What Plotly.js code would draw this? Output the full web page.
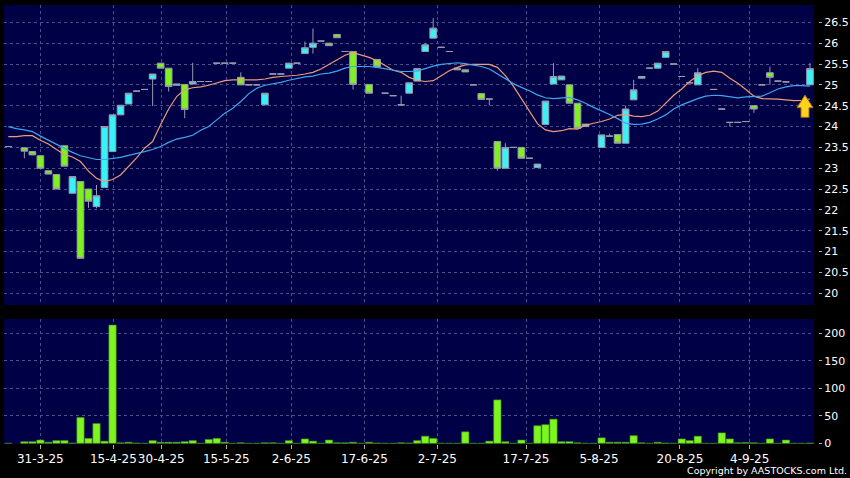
<!DOCTYPE html>
<html>
<head>
<meta charset="utf-8">
<script src="https://cdn.plot.ly/plotly-3.0.1.min.js"></script>
<style>html,body{margin:0;padding:0;background:#000;}#chart{width:850px;height:478px;}</style>
</head>
<body>
<div id="chart"></div>
<script>
// ---- data (one entry per trading slot) ----
const openP = [23.52,null,23.49,23.40,23.30,22.94,22.85,23.54,22.40,22.68,
  22.50,22.08,22.54,23.40,24.28,24.54,24.85,24.89,25.14,25.52,
  25.40,24.99,25.01,25.02,25.08,25.08,25.52,25.52,25.52,25.18,
  25.00,25.00,24.52,25.26,25.26,25.40,25.52,25.75,25.90,26.05,
  26.00,26.21,25.80,25.80,null,25.01,25.61,24.80,24.74,24.52,
  24.80,25.09,25.80,26.12,25.90,25.80,25.40,25.36,25.00,24.79,
  24.66,23.64,23.00,23.50,23.50,23.24,23.02,24.05,25.02,25.12,
  25.00,24.56,24.00,null,23.50,23.77,23.81,23.60,24.64,25.16,
  25.40,25.40,25.66,25.50,25.20,25.05,25.00,null,24.89,24.42,
  24.10,24.10,24.12,24.50,25.00,25.29,25.09,25.07,null,null,25.00];
const closeP = [23.52,null,23.41,23.32,23.00,22.86,22.50,23.05,22.80,20.84,
  22.21,22.34,24.00,24.28,24.51,24.80,24.85,24.89,25.26,25.40,
  24.96,25.02,24.41,25.08,25.08,25.08,25.52,25.52,25.52,25.00,
  25.00,25.00,24.80,25.26,25.26,25.52,25.52,25.89,26.00,26.05,
  25.94,26.13,25.80,25.01,null,24.80,25.43,24.80,24.74,24.52,
  25.05,25.39,25.96,26.36,25.90,25.80,25.36,25.31,25.00,24.65,
  24.66,23.00,23.50,23.50,23.24,23.24,23.10,24.61,25.20,25.21,
  24.56,23.96,24.06,null,23.80,23.77,23.60,24.42,24.88,25.20,
  25.40,25.52,25.80,25.50,25.20,25.05,25.29,null,24.89,24.42,
  24.10,24.10,24.12,24.42,25.00,25.18,25.09,25.07,null,null,25.39];
const highP = [23.52,null,23.49,23.40,23.30,22.94,22.85,23.54,22.80,22.68,
  22.50,22.60,24.00,24.28,24.51,24.80,24.85,24.89,25.26,25.52,
  25.40,25.02,25.01,25.53,25.08,25.08,25.52,25.52,25.52,25.30,
  25.00,25.00,24.80,25.26,25.26,25.52,25.52,26.04,26.35,26.05,
  26.00,26.21,25.80,25.80,null,25.01,25.61,24.80,24.74,24.74,
  25.05,25.39,26.01,26.60,25.90,25.80,25.40,25.36,25.00,24.79,
  24.66,23.64,23.60,23.50,23.50,23.24,23.10,24.61,25.52,25.21,
  25.00,24.56,24.06,null,23.80,23.83,23.81,24.50,25.12,25.20,
  25.40,25.52,25.80,25.50,25.20,25.05,25.40,null,24.89,24.42,
  24.10,24.10,24.12,24.50,25.00,25.44,25.09,25.07,null,null,25.52];
const lowP = [23.52,null,23.24,23.32,23.00,22.86,22.50,23.05,22.40,20.84,
  22.05,22.04,22.54,23.40,24.28,24.54,24.85,24.89,24.49,25.40,
  24.84,24.99,24.20,25.02,25.08,25.08,25.52,25.52,25.52,25.00,
  25.00,25.00,24.52,25.26,25.26,25.40,25.52,25.75,25.75,26.05,
  25.94,26.13,25.80,24.89,null,24.80,25.43,24.80,24.74,24.52,
  24.80,25.09,25.80,26.12,25.90,25.80,25.36,25.31,25.00,24.65,
  24.51,22.94,23.00,23.50,23.24,23.24,23.02,24.05,25.02,25.12,
  24.56,23.96,24.00,null,23.50,23.77,23.60,23.60,24.64,25.16,
  25.40,25.40,25.66,25.50,25.20,25.05,25.00,null,24.89,24.42,
  24.00,24.10,24.12,24.33,25.00,25.00,25.09,25.07,null,null,25.00];
const volume = [0,null,3,3,6,2,5,5,0.5,47,
  9,36,4,215,1,2,0.5,0,5,2,
  2,2,3,5,0,7,9,2,0,1,
  0,0,1,1,0,5,0,8,4,0,
  6,1,1,2,0,2,0.5,0,0,1,
  0.5,5,13,9,0,0,0,21,0,0,
  4,79,3,0,6,0,32,34,44,3,
  3,1,0,0,10,2,2,2,14,1,
  0,2,0.5,0,8,5,13,0,0,19,
  8,1,1.5,1,0,8,0,6,0,0,0.5];
const maShort = [23.76,23.76,23.78,23.78,23.67,23.58,23.45,23.33,23.27,23.16,
  22.93,22.76,22.68,22.73,22.84,23.04,23.25,23.48,23.64,24.05,
  24.42,24.72,24.88,24.93,24.95,24.99,25.05,25.10,25.12,25.12,
  25.12,25.12,25.14,25.18,25.20,25.21,25.23,25.26,25.30,25.38,
  25.49,25.60,25.71,25.77,25.72,25.66,25.58,25.46,25.35,25.30,
  25.18,25.11,25.08,25.10,25.23,25.34,25.42,25.48,25.49,25.49,
  25.49,25.42,25.22,24.97,24.66,24.37,24.07,23.92,23.88,23.90,
  23.95,23.94,24.03,24.08,24.12,24.18,24.27,24.29,24.25,24.24,
  24.27,24.37,24.56,24.75,24.90,25.08,25.22,25.30,25.33,25.30,
  25.16,25.04,24.89,24.73,24.67,24.67,24.66,24.64,24.62,24.63,24.66];
const maLong = [24.00,23.95,23.92,23.88,23.77,23.67,23.57,23.47,23.38,23.30,
  23.25,23.21,23.21,23.24,23.26,23.31,23.35,23.40,23.45,23.52,
  23.62,23.70,23.74,23.79,23.91,24.00,24.16,24.32,24.44,24.60,
  24.79,24.92,24.99,25.02,25.06,25.11,25.15,25.19,25.21,25.26,
  25.28,25.33,25.40,25.44,25.44,25.44,25.42,25.39,25.36,25.32,
  25.32,25.33,25.39,25.45,25.49,25.51,25.53,25.51,25.48,25.44,
  25.38,25.26,25.14,25.03,24.94,24.86,24.76,24.69,24.67,24.69,
  24.70,24.64,24.56,24.46,24.38,24.29,24.19,24.08,24.05,24.06,
  24.10,24.18,24.28,24.42,24.52,24.60,24.67,24.73,24.75,24.74,
  24.71,24.69,24.71,24.72,24.73,24.81,24.90,24.95,24.98,24.98,24.97];
const tickSlots = [3.99,13.10,19.08,27.19,35.30,44.41,53.51,64.58,73.68,83.78,92.48];
const tickLabels = ['31-3-25','15-4-25','30-4-25','15-5-25','2-6-25','17-6-25','2-7-25','17-7-25','5-8-25','20-8-25','4-9-25'];
const signalSlot = 100, signalPrice = 24.756;

const slots = openP.map((_, i) => i);

// ---- styles ----
const gridCol = '#4e4e8c';
const font = 'DejaVu Sans, sans-serif';
const outline = '#9a9aae';

const traces = [
  {type:'bar', x:slots, y:volume, xaxis:'x2', yaxis:'y2',
   marker:{color:'#7ef51e', line:{color:'#3f8f16', width:0.6}}, hoverinfo:'x+y'},
  {type:'candlestick', x:slots, open:openP, high:highP, low:lowP, close:closeP,
   xaxis:'x', yaxis:'y', whiskerwidth:0,
   increasing:{fillcolor:'#38f2f8', line:{color:outline, width:1}},
   decreasing:{fillcolor:'#80f020', line:{color:outline, width:1}}},
  {type:'scatter', mode:'lines', x:slots, y:maShort, xaxis:'x', yaxis:'y',
   line:{color:'#eb9c78', width:1.2}, hoverinfo:'skip'},
  {type:'scatter', mode:'lines', x:slots, y:maLong, xaxis:'x', yaxis:'y',
   line:{color:'#3ea6ee', width:1.2}, hoverinfo:'skip'}
];

const xRange = [-0.54, 100.5];
const layout = {
  width:850, height:478,
  paper_bgcolor:'#000000', plot_bgcolor:'#000046',
  margin:{l:4, r:32, t:5, b:34},
  showlegend:false, boxgap:0.17, boxgroupgap:0, bargap:0.09,
  font:{family:font, color:'#ffffff'},
  xaxis:{domain:[0,0.99509], anchor:'y', range:xRange, tickvals:tickSlots, ticktext:tickLabels,
    showticklabels:false, ticks:'', showgrid:true, gridcolor:gridCol, griddash:'3px,3px', gridwidth:1,
    zeroline:false, showline:false, rangeslider:{visible:false}, fixedrange:true},
  xaxis2:{domain:[0,0.99509], anchor:'y2', matches:'x', range:xRange, tickvals:tickSlots, ticktext:tickLabels,
    ticks:'outside', ticklen:4, tickcolor:'#b0b0b0', tickwidth:1, tickangle:0,
    tickfont:{family:font, size:12, color:'#ffffff'},
    showgrid:true, gridcolor:gridCol, griddash:'3px,3px', zeroline:false, showline:false},
  yaxis:{domain:[0.3166,1], anchor:'free', position:1, side:'right', range:[19.72, 26.915],
    tick0:20, dtick:0.5, ticks:'outside', ticklen:3, tickcolor:'#b0b0b0',
    tickfont:{family:font, size:11, color:'#ffffff'},
    showgrid:true, gridcolor:gridCol, griddash:'3px,3px', zeroline:false, showline:false},
  yaxis2:{domain:[0,0.2847], anchor:'free', position:1, side:'right', range:[-1.2, 226],
    tick0:0, dtick:50, ticks:'outside', ticklen:3, tickcolor:'#b0b0b0',
    tickfont:{family:font, size:11, color:'#ffffff'},
    showgrid:true, gridcolor:gridCol, griddash:'3px,3px', zeroline:false, showline:false},
  shapes:[{type:'path', xref:'x', yref:'y', xsizemode:'pixel', ysizemode:'pixel',
    xanchor:signalSlot, yanchor:signalPrice, layer:'above',
    path:'M -5,0 L 3,-12.7 L -1,-12.7 L -1,-22.3 L -9,-22.3 L -9,-12.7 L -13,-12.7 Z',
    fillcolor:'#ffd21e', line:{color:'#a8680a', width:1}}],
  annotations:[{text:'Copyright by AASTOCKS.com Ltd.', xref:'paper', yref:'paper',
    x:1.0385, y:-0.0615, xanchor:'right', yanchor:'middle', showarrow:false,
    font:{family:font, size:9.5, color:'#ffffff'}}]
};

Plotly.newPlot('chart', traces, layout, {displayModeBar:false, staticPlot:true});
</script>
</body>
</html>
